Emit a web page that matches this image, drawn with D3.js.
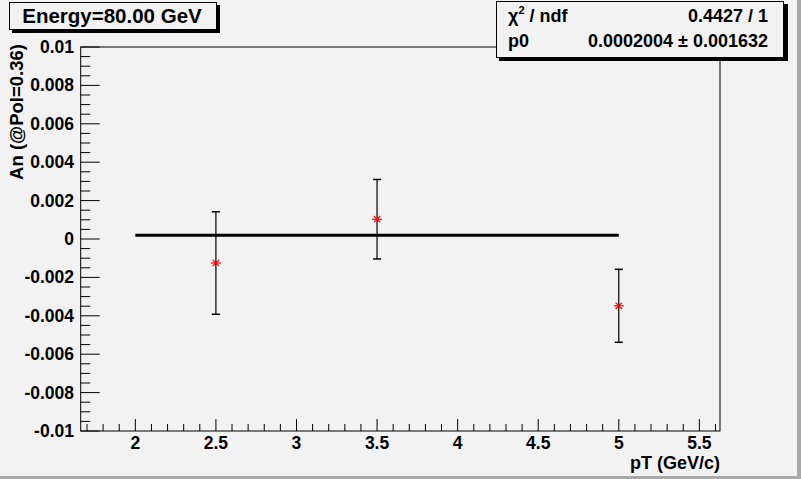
<!DOCTYPE html>
<html><head><meta charset="utf-8">
<script src="https://cdn.jsdelivr.net/npm/d3@7"></script>
<style>body{margin:0;background:#f2f2f2;} svg{display:block;font-family:"Liberation Sans",Arial,sans-serif;font-weight:bold;}</style>
</head><body>
<script>
// Data
const pT = [2.5, 3.5, 5.0];
const An = [-0.00125, 0.00103, -0.00348];
const AnErr = [0.00267, 0.00207, 0.0019];
const fitRange = [2.0, 5.0];
const fitP0 = 0.0002004;
const xTicks = [2, 2.5, 3, 3.5, 4, 4.5, 5, 5.5];
const yTicks = [-0.01, -0.008, -0.006, -0.004, -0.002, 0, 0.002, 0.004, 0.006, 0.008, 0.01];
const yTickLabels = ["-0.01","-0.008","-0.006","-0.004","-0.002","0","0.002","0.004","0.006","0.008","0.01"];
const title = "Energy=80.00 GeV";
const statRows = [["χ2 / ndf", "0.4427 / 1"], ["p0", "0.0002004 ± 0.001632"]];

const W = 801, H = 479;
const svg = d3.select("body").append("svg").attr("width", W).attr("height", H);
svg.append("rect").attr("width", W).attr("height", H).attr("fill", "#f2f2f2");
// canvas bevel
svg.append("rect").attr("x", 0).attr("y", H-3).attr("width", W).attr("height", 3).attr("fill", "#a9a9a9");
svg.append("rect").attr("x", W-4).attr("y", 0).attr("width", 4).attr("height", H).attr("fill", "#a9a9a9");

const L = 80.7, R = 720, T = 47, B = 431;
const x = d3.scaleLinear().domain([1.661, 5.628]).range([L, R]);
const y = d3.scaleLinear().domain([-0.01, 0.01]).range([B, T]);

// frame
svg.append("rect").attr("x", L).attr("y", T).attr("width", R-L).attr("height", B-T)
  .attr("fill", "none").attr("stroke", "#000").attr("stroke-width", 1);

// x axis ticks
const xMinor = d3.range(17, 57).map(d => d/10).filter(v => v >= 1.661 && v <= 5.628);
const gx = svg.append("g");
gx.selectAll("line.mi").data(xMinor).join("line")
  .attr("x1", d => x(d)).attr("x2", d => x(d)).attr("y1", B).attr("y2", d => B - (Math.abs(d*2 - Math.round(d*2)) < 1e-6 ? 12 : 7))
  .attr("stroke", "#000");
gx.selectAll("text").data(xTicks).join("text")
  .attr("x", d => x(d)).attr("y", 449).attr("text-anchor", "middle").attr("font-size", 17.5).text(d => d3.format("")(d));

// y axis ticks
const yMinor = d3.range(-20, 21).map(d => d*0.0005);
const gy = svg.append("g");
gy.selectAll("line").data(yMinor).join("line")
  .attr("x1", L).attr("x2", (d, i) => L + (i % 4 === 0 ? 19 : 9.5)).attr("y1", d => y(d)).attr("y2", d => y(d))
  .attr("stroke", "#000");
gy.selectAll("text").data(yTicks).join("text")
  .attr("x", 74).attr("y", d => y(d) + 6).attr("text-anchor", "end").attr("font-size", 17.5)
  .text((d, i) => yTickLabels[i]);

// axis titles
svg.append("text").attr("x", 720).attr("y", 469).attr("text-anchor", "end").attr("font-size", 18).text("pT (GeV/c)");
svg.append("text").attr("transform", "translate(23,112) rotate(-90)").attr("text-anchor", "middle").attr("font-size", 18.5).text("An (@Pol=0.36)");

// fit line
svg.append("line").attr("x1", x(fitRange[0])).attr("x2", x(fitRange[1])).attr("y1", y(fitP0)).attr("y2", y(fitP0))
  .attr("stroke", "#000").attr("stroke-width", 3);

// error bars
const gp = svg.append("g");
pT.forEach((px, i) => {
  const cx = x(px), cy = y(An[i]), yt = y(An[i] + AnErr[i]), yb = y(An[i] - AnErr[i]);
  gp.append("line").attr("x1", cx).attr("x2", cx).attr("y1", yt).attr("y2", yb).attr("stroke", "#000").attr("stroke-width", 1.2);
  gp.append("line").attr("x1", cx-4).attr("x2", cx+4).attr("y1", yt).attr("y2", yt).attr("stroke", "#000").attr("stroke-width", 1.5);
  gp.append("line").attr("x1", cx-4).attr("x2", cx+4).attr("y1", yb).attr("y2", yb).attr("stroke", "#000").attr("stroke-width", 1.5);
  // star marker
  const s = 4;
  const mk = gp.append("g").attr("transform", `translate(${cx},${cy})`).attr("stroke", "#ff0000").attr("stroke-width", 1.2);
  mk.append("line").attr("x1", -s-1).attr("x2", s+1).attr("y1", 0).attr("y2", 0);
  mk.append("line").attr("x1", -s*0.8).attr("x2", s*0.8).attr("y1", -s*0.8).attr("y2", s*0.8);
  mk.append("line").attr("x1", -s*0.8).attr("x2", s*0.8).attr("y1", s*0.8).attr("y2", -s*0.8);
  mk.append("circle").attr("r", 1.3).attr("fill", "#ff0000").attr("stroke", "none");
});

// title box
const tb = svg.append("g");
tb.append("rect").attr("x", 12).attr("y", 5).attr("width", 208).attr("height", 28).attr("fill", "#000");
tb.append("rect").attr("x", 9.5).attr("y", 2.5).attr("width", 207).attr("height", 27).attr("fill", "#f2f2f2").attr("stroke", "#000");
tb.append("text").attr("x", 112).attr("y", 23).attr("text-anchor", "middle").attr("font-size", 20.5).text(title);

// stats box
const sb = svg.append("g");
sb.append("rect").attr("x", 499).attr("y", 4).attr("width", 289).attr("height", 57).attr("fill", "#000");
sb.append("rect").attr("x", 496.5).attr("y", 1.5).attr("width", 287).attr("height", 56).attr("fill", "#f2f2f2").attr("stroke", "#000");
statRows.forEach((r, i) => {
  const ty = 22 + i * 25;
  const t = sb.append("text").attr("x", 508).attr("y", ty).attr("font-size", 18);
  if (i === 0) {
    t.append("tspan").text("χ");
    t.append("tspan").attr("dy", -8).attr("font-size", 11).text("2");
    t.append("tspan").attr("dy", 8).text(" / ndf");
  } else t.text(r[0]);
  sb.append("text").attr("x", 768).attr("y", ty).attr("text-anchor", "end").attr("font-size", 18).text(r[1]);
});
</script>
</body></html>
